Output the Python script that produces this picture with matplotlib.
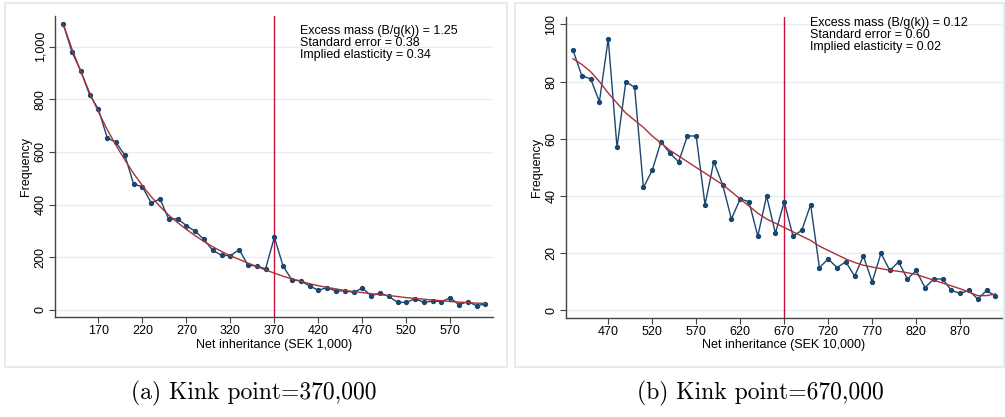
"""Bunching at the inheritance-tax kinks: frequency of net inheritances per bin,
observed counts against the fitted counterfactual, for two kink points."""

import matplotlib

matplotlib.use("Agg")
import matplotlib.pyplot as plt
from matplotlib.patches import Rectangle
from matplotlib.ticker import FuncFormatter

# (a) kink at 370,000 -- bins in SEK 1,000
bins_a = list(range(130, 620, 10))
freq_a = [1085, 979, 907, 817, 762, 654, 636, 588, 478, 468,
          406, 422, 344, 347, 320, 299, 268, 226, 208, 206,
          229, 170, 167, 156, 276, 166, 114, 111, 91, 75,
          85, 72, 73, 67, 83, 54, 64, 52, 29, 29,
          43, 29, 34, 32, 46, 20, 32, 16, 23]
fit_a = [1085, 990, 905, 825, 752, 685, 625, 570, 518, 472,
         430, 393, 360, 332, 306, 282, 260, 240, 222, 206,
         192, 178, 165, 152, 140, 128, 118, 109, 100, 92,
         86, 80, 74, 70, 66, 62, 58, 55, 51, 47,
         44, 41, 38, 35, 32, 30, 28, 26, 25]
kink_a = 370
stats_a = ["Excess mass (B/g(k)) = 1.25", "Standard error = 0.38",
           "Implied elasticity = 0.34"]

# (b) kink at 670,000 -- bins in SEK 10,000
bins_b = list(range(430, 920, 10))
freq_b = [91, 82, 81, 73, 95, 57, 80, 78, 43, 49,
          59, 55, 52, 61, 61, 37, 52, 44, 32, 39,
          38, 26, 40, 27, 38, 26, 28, 37, 15, 18,
          15, 17, 12, 19, 10, 20, 14, 17, 11, 14,
          8, 11, 11, 7, 6, 7, 4, 7, 5]
fit_b = [88, 86, 83.5, 80, 76, 72.5, 69, 66.5, 64, 61,
         58.5, 56, 54, 52, 50, 48, 46, 44, 41.5, 39,
         36.5, 34, 32, 30.5, 29, 27.5, 26, 24.5, 22.5, 21,
         19.5, 18, 16.8, 15.8, 15.2, 14.6, 14.1, 13.7, 13.2, 12.6,
         11.6, 10.6, 9.6, 8.6, 7.6, 6.4, 5.2, 5.2, 5.8]
kink_b = 670
stats_b = ["Excess mass (B/g(k)) = 0.12", "Standard error = 0.60",
           "Implied elasticity = 0.02"]

NAVY = "#1a476f"
MAROON = "#a83236"
KINK = "#c8103c"
GRID = "#e6eef0"
SANS = "Liberation Sans"
FS = 9


def panel(ax, bins, freq, fit, kink, stats, xticks, yticks, xlim, ylim,
          xlabel, fmt, text_y):
    ax.set_xlim(*xlim)
    ax.set_ylim(*ylim)
    ax.set_yticks(yticks)
    ax.set_xticks(xticks)
    ax.yaxis.set_major_formatter(FuncFormatter(fmt))
    ax.grid(axis="y", color=GRID, lw=1.0)
    ax.set_axisbelow(True)
    for s in ("top", "right"):
        ax.spines[s].set_visible(False)
    for s in ("left", "bottom"):
        ax.spines[s].set_color("#444444")
        ax.spines[s].set_linewidth(1.0)
    ax.tick_params(length=4, width=0.8, color="#444444", labelsize=FS,
                   pad=2)
    for lab in ax.get_yticklabels():
        lab.set_rotation(90)
        lab.set_va("center")
        lab.set_family(SANS)
    for lab in ax.get_xticklabels():
        lab.set_family(SANS)

    ax.plot(bins, freq, color=NAVY, lw=1.0, marker="o", ms=2.8, zorder=3)
    ax.plot(bins, fit, color=MAROON, lw=1.0, zorder=4)
    ax.axvline(kink, color=KINK, lw=1.0, zorder=2)

    ax.text(0.56, text_y, "\n".join(stats), transform=ax.transAxes,
            family=SANS, fontsize=FS, va="top", ha="left", linespacing=1.0)
    ax.set_xlabel(xlabel, family=SANS, fontsize=FS, labelpad=1)
    ax.set_ylabel("Frequency", family=SANS, fontsize=FS, labelpad=2)


def main() -> None:
    fig = plt.figure(figsize=(10.05, 4.17), dpi=100)

    # light frames around each graph region
    for x0, w in ((5 / 1005, 502 / 1005), (515 / 1005, 489 / 1005)):
        fig.add_artist(Rectangle((x0, 50 / 417), w, 364 / 417,
                                 transform=fig.transFigure, fill=False,
                                 edgecolor="#e4ecee", lw=1.5))

    ax_a = fig.add_axes([0.0547, 0.2398, 0.4358, 0.7218])
    ax_b = fig.add_axes([0.5629, 0.2386, 0.4341, 0.7214])

    panel(ax_a, bins_a, freq_a, fit_a, kink_a, stats_a,
          list(range(170, 571, 50)), list(range(0, 1001, 200)),
          (120.6, 618.5), (-26.6, 1116), "Net inheritance (SEK 1,000)",
          lambda v, _: f"{int(v):,}", 0.97)
    panel(ax_b, bins_b, freq_b, fit_b, kink_b, stats_b,
          list(range(470, 871, 50)), list(range(0, 101, 20)),
          (421.7, 917.5), (-2.45, 102.7), "Net inheritance (SEK 10,000)",
          lambda v, _: f"{int(v)}", 1.0)

    fig.text(254 / 1005, 1 - 393 / 417, "(a) Kink point=370,000",
             family="cmr10", fontsize=17, ha="center", va="center")
    fig.text(760 / 1005, 1 - 393 / 417, "(b) Kink point=670,000",
             family="cmr10", fontsize=17, ha="center", va="center")

    fig.savefig("out.png", dpi=100)


if __name__ == "__main__":
    main()
